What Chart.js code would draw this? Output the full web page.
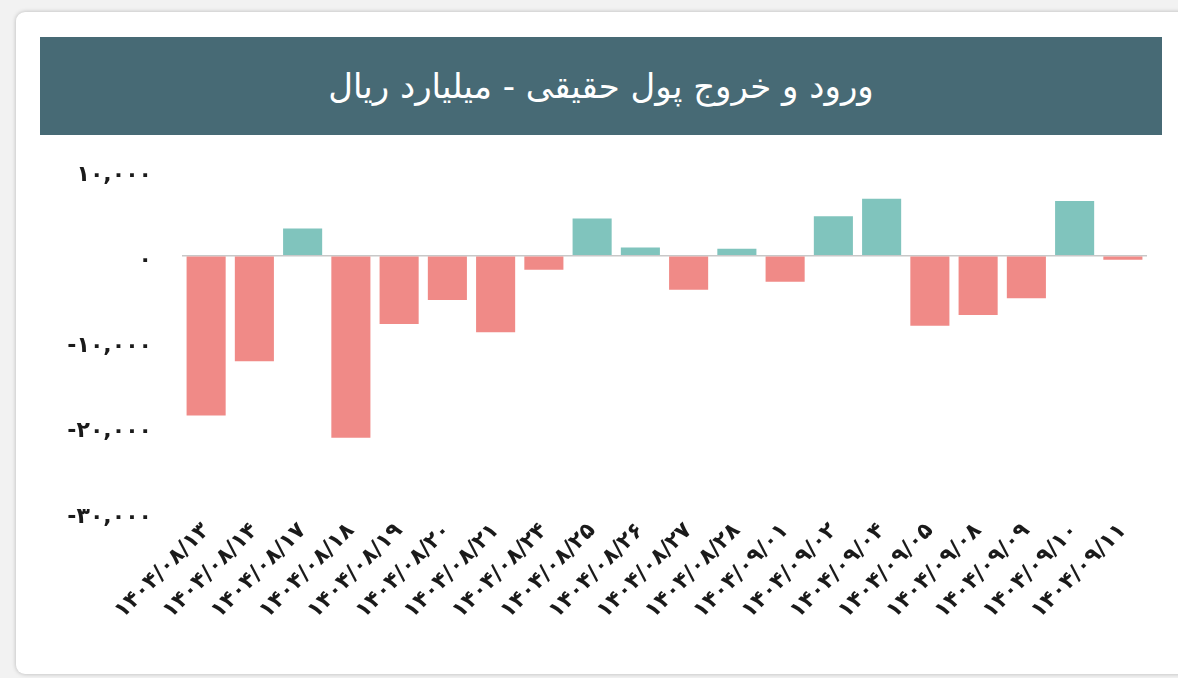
<!DOCTYPE html>
<html>
<head>
<meta charset="utf-8">
<script src="https://cdn.jsdelivr.net/npm/chart.js@4.4.1/dist/chart.umd.min.js"></script>
<style>
  html, body { margin:0; padding:0; background:#f2f2f2; width:1178px; height:678px; overflow:hidden; }
  #card { position:absolute; left:16px; top:12px; width:1180px; height:662px; background:#fff;
          border-radius:9px; box-shadow:0 0 4px rgba(0,0,0,0.25); }
  #header { position:absolute; left:40px; top:37px; width:1122px; height:98px; background:#476a75;
            color:#fff; font-family:"DejaVu Sans", sans-serif; font-size:34px; text-align:center;
            line-height:98px; direction:rtl; z-index:2; }
  #wrap { position:absolute; left:40px; top:127px; width:1122px; height:538px; z-index:1; }
</style>
</head>
<body>
<div id="card"></div>
<div id="header">ورود و خروج پول حقیقی - میلیارد ریال</div>
<div id="wrap"><canvas id="c"></canvas></div>
<script>
const categories = ["۱۴۰۴/۰۸/۱۳","۱۴۰۴/۰۸/۱۴","۱۴۰۴/۰۸/۱۷","۱۴۰۴/۰۸/۱۸","۱۴۰۴/۰۸/۱۹","۱۴۰۴/۰۸/۲۰","۱۴۰۴/۰۸/۲۱","۱۴۰۴/۰۸/۲۴","۱۴۰۴/۰۸/۲۵","۱۴۰۴/۰۸/۲۶","۱۴۰۴/۰۸/۲۷","۱۴۰۴/۰۸/۲۸","۱۴۰۴/۰۹/۰۱","۱۴۰۴/۰۹/۰۲","۱۴۰۴/۰۹/۰۴","۱۴۰۴/۰۹/۰۵","۱۴۰۴/۰۹/۰۸","۱۴۰۴/۰۹/۰۹","۱۴۰۴/۰۹/۱۰","۱۴۰۴/۰۹/۱۱"];
const netFlow = [-18700,-12350,3180,-21300,-8000,-5200,-8950,-1650,4350,950,-4000,800,-3050,4620,6670,-8200,-6940,-4980,6390,-470];
const yTicks = [10000,0,-10000,-20000,-30000];

const posColor = "#80c4bd", negColor = "#f08a87";
const faDigits = "۰۱۲۳۴۵۶۷۸۹";
function toFa(s){ return String(s).replace(/[0-9]/g, d => faDigits[+d]); }
function fmt(v){ const a = Math.abs(v).toString().replace(/\B(?=(\d{3})+(?!\d))/g, ","); return (v<0?"-":"") + toFa(a); }

new Chart(document.getElementById("c"), {
  type: "bar",
  data: {
    labels: categories,
    datasets: [{
      data: netFlow,
      backgroundColor: netFlow.map(v => v >= 0 ? posColor : negColor),
      barPercentage: 0.9,
      categoryPercentage: 0.9
    }]
  },
  options: {
    responsive: true,
    maintainAspectRatio: false,
    animation: false,
    layout: { padding: { top: 23, right: 15, left: 0, bottom: 0 } },
    plugins: { legend: { display: false }, tooltip: { enabled: false } },
    scales: {
      x: {
        grid: { display: false, drawTicks: false },
        border: { display: false },
        ticks: {
          maxRotation: 45, minRotation: 45, autoSkip: false, padding: 6,
          color: "#1a1a1a", font: { family: "'DejaVu Sans', sans-serif", size: 22, weight: "bold" }
        },
        afterFit: s => { s.height = 153; }
      },
      y: {
        min: -30000, max: 10000,
        afterBuildTicks: s => { s.ticks = yTicks.map(v => ({ value: v })); },
        grid: {
          drawTicks: false,
          color: ctx => (ctx.tick && ctx.tick.value === 0) ? "#c8c8c8" : "rgba(0,0,0,0)",
          lineWidth: 1.5
        },
        border: { display: false },
        ticks: {
          padding: 30, labelOffset: 5, color: "#1a1a1a",
          font: { family: "'DejaVu Sans', sans-serif", size: 22, weight: "bold" },
          callback: v => fmt(v)
        },
        afterFit: s => { s.width = 142; }
      }
    }
  }
});
</script>
</body>
</html>
